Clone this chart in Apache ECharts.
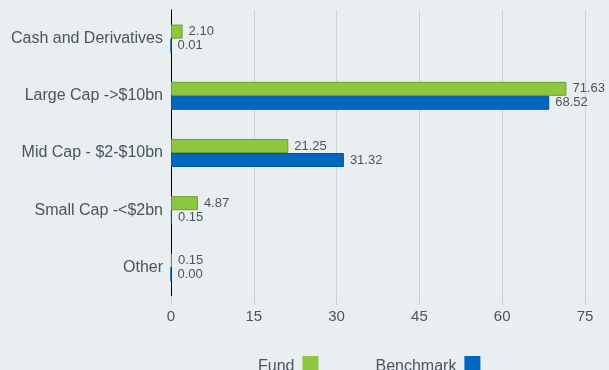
<!DOCTYPE html>
<html>
<head>
<meta charset="utf-8">
<script src="https://cdn.jsdelivr.net/npm/echarts@6/dist/echarts.min.js"></script>
<style>
  html, body { margin: 0; padding: 0; background: #e9eef1; }
  #main { width: 609px; height: 370px; }
</style>
</head>
<body>
<div id="main"></div>
<script>
// data
var categories = ['Cash and Derivatives', 'Large Cap ->$10bn', 'Mid Cap - $2-$10bn', 'Small Cap -<$2bn', 'Other'];
var fund = [2.10, 71.63, 21.25, 4.87, 0.15];
var benchmark = [0.01, 68.52, 31.32, 0.15, 0.00];
var xTicks = [0, 15, 30, 45, 60, 75];

var textColor = '#4a5560';

function labelStyle() {
  return {
    show: true,
    position: 'right',
    distance: 6,
    color: textColor,
    fontSize: 13,
    fontFamily: 'Liberation Sans',
    formatter: function (p) { return p.value.toFixed(2); }
  };
}

var chart = echarts.init(document.getElementById('main'));
chart.setOption({
  backgroundColor: '#e9eef1',
  animation: false,
  grid: { left: 171, right: 24, top: 10, bottom: 74 },
  legend: {
    data: ['Fund', 'Benchmark'],
    top: 351,
    left: 253,
    align: 'right',
    icon: 'rect',
    itemWidth: 16,
    itemHeight: 22,
    itemGap: 57,
    itemStyle: { borderWidth: 0 },
    textStyle: { color: textColor, fontSize: 16, fontFamily: 'Liberation Sans', padding: [6, 3, 0, 0] }
  },
  xAxis: {
    type: 'value',
    min: xTicks[0],
    max: xTicks[xTicks.length - 1],
    interval: 15,
    axisLine: { show: false },
    axisTick: { show: true, length: 9, lineStyle: { color: '#c9ced3' } },
    splitLine: { show: true, lineStyle: { color: '#cdd2d7' } },
    axisLabel: { color: textColor, fontSize: 15, fontFamily: 'Liberation Sans', margin: 13 }
  },
  yAxis: {
    type: 'category',
    data: categories,
    inverse: true,
    axisLine: { show: true, lineStyle: { color: '#000', width: 1 } },
    axisTick: { show: false },
    axisLabel: { color: textColor, fontSize: 16, fontFamily: 'Liberation Sans', margin: 8 }
  },
  series: [
    {
      name: 'Fund',
      type: 'bar',
      data: fund,
      barWidth: 14,
      barGap: '0%',
      itemStyle: { color: '#8dc63f', borderColor: '#6b9e2c', borderWidth: 1 },
      label: labelStyle()
    },
    {
      name: 'Benchmark',
      type: 'bar',
      data: benchmark,
      barWidth: 14,
      barGap: '0%',
      itemStyle: { color: '#0067c0', borderColor: '#0057a3', borderWidth: 1 },
      label: labelStyle()
    }
  ]
});
</script>
</body>
</html>
